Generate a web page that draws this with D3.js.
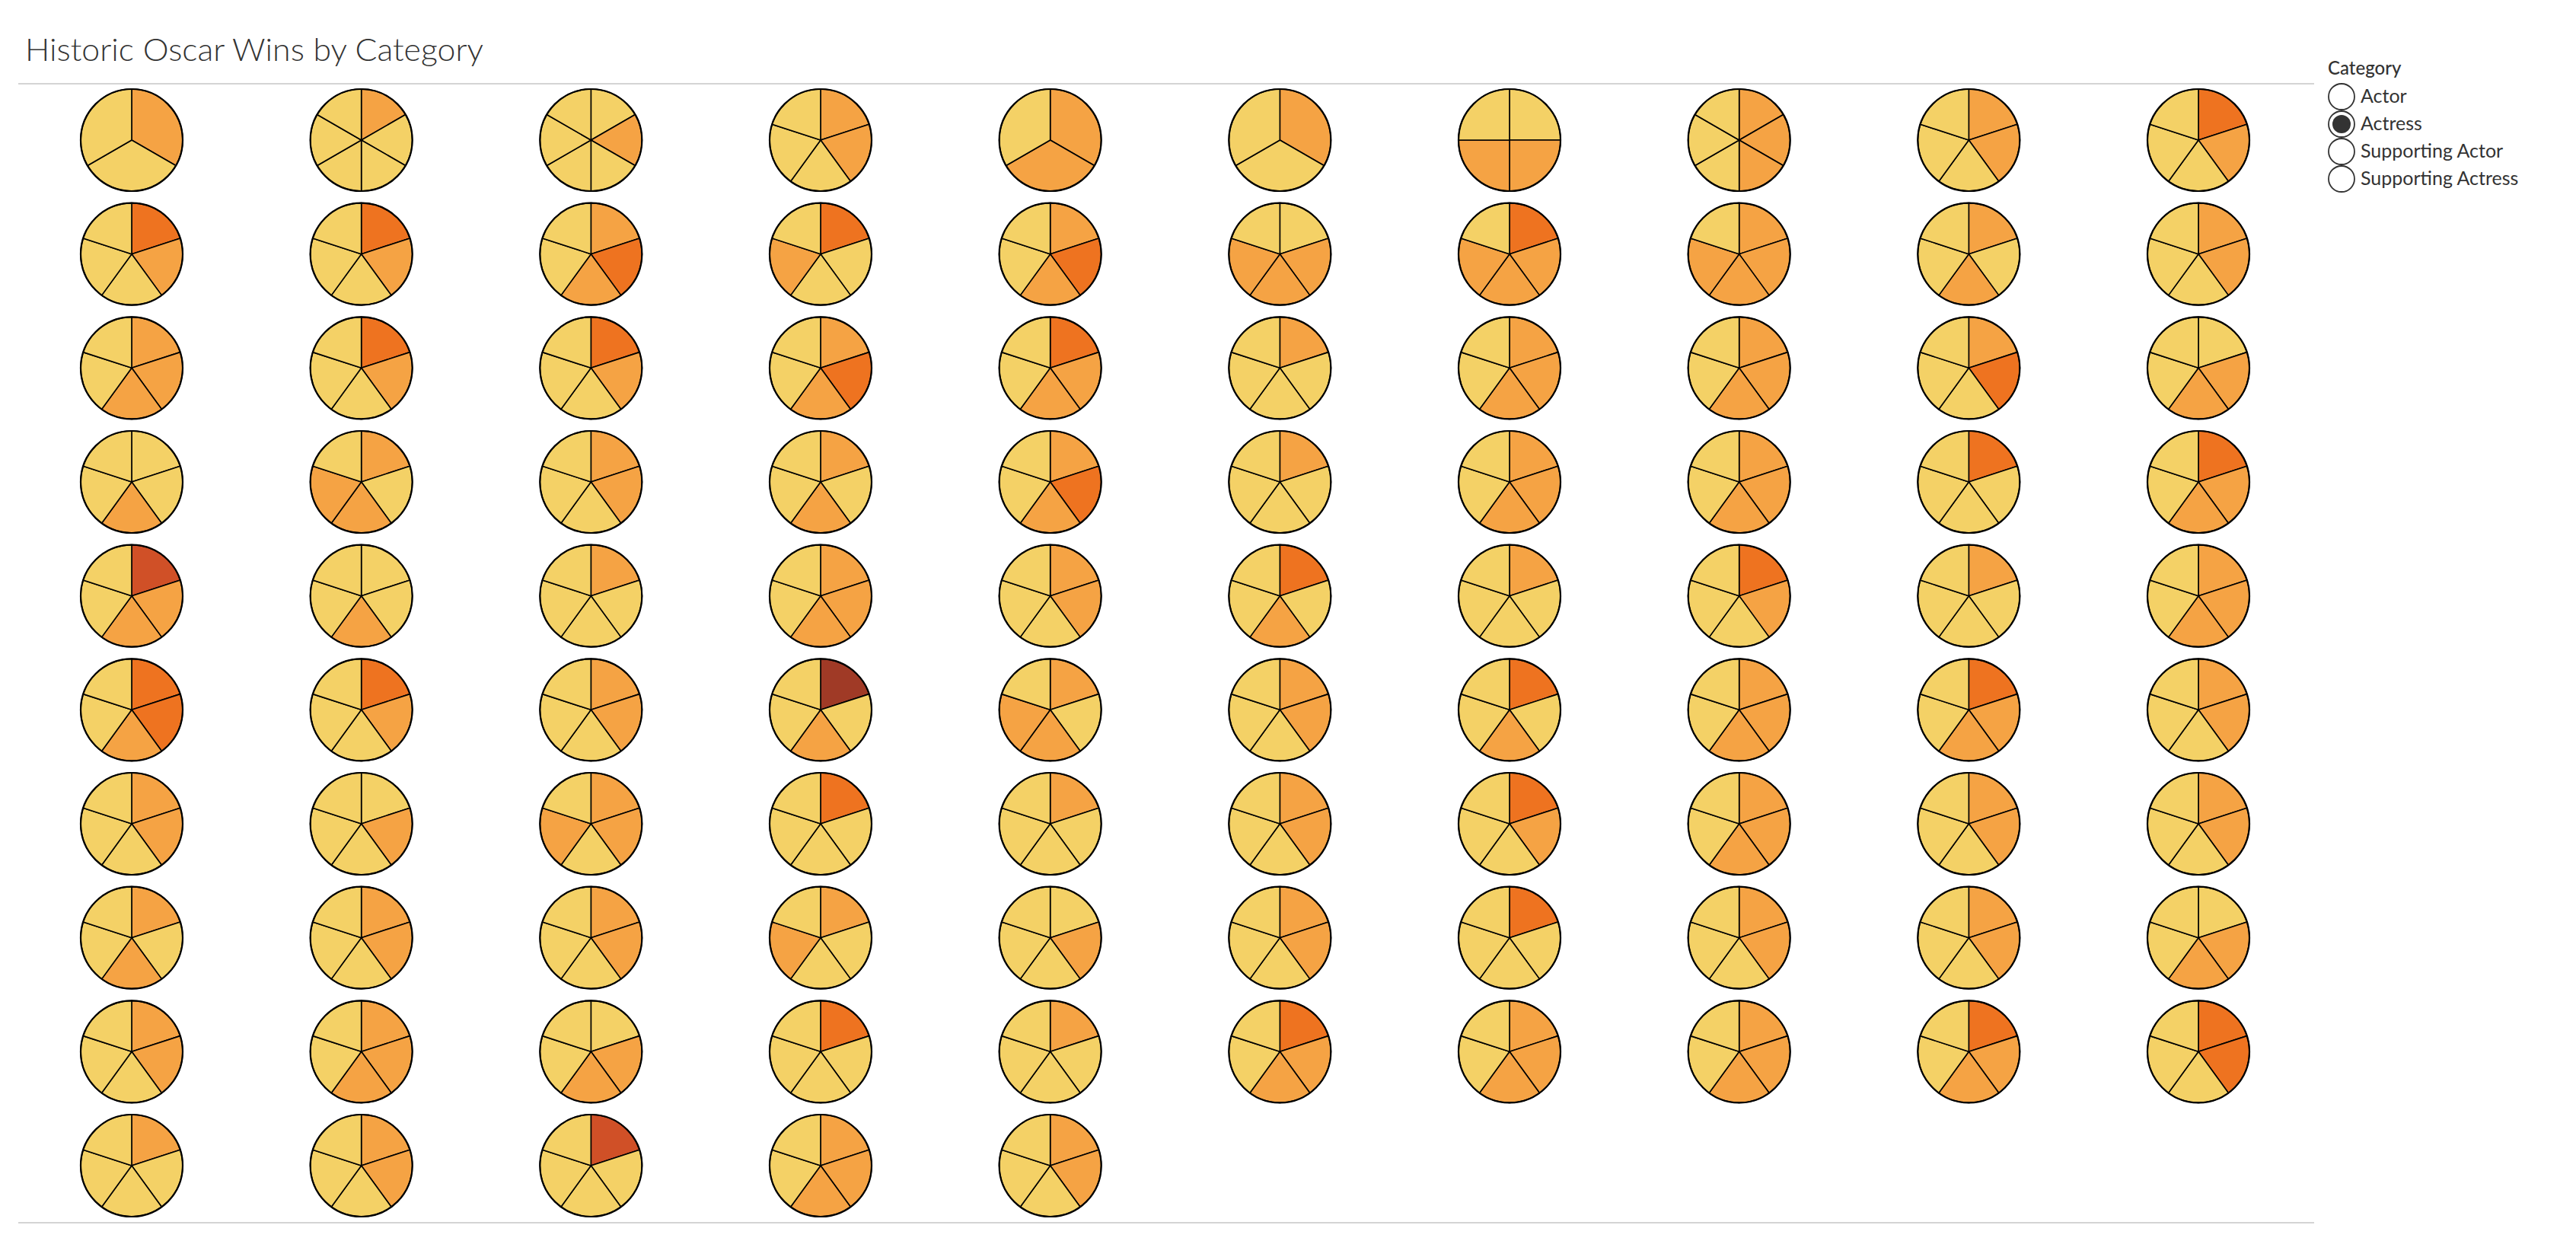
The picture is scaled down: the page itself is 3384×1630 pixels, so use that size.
<!DOCTYPE html>
<html><head><meta charset="utf-8">
<script src="https://cdn.jsdelivr.net/npm/d3@7"></script>
<style>body{margin:0;background:#fff;}svg{display:block;}</style>
</head><body>
<script>
// Level codes per slice (clockwise from 12 o'clock): 1=lightest ... 5=darkest
const row1  = ["211","211111","121111","22111","221","211","1221","222111","22111","32111"];
const row2  = ["32111","32111","23211","31121","23211","12221","32221","22221","21211","22111"];
const row3  = ["22211","32111","32111","23211","32211","21111","22211","22211","23111","12211"];
const row4  = ["11211","21221","22111","21211","23211","21111","22211","22211","31111","32211"];
const row5  = ["42211","11211","21111","22211","22111","31211","21111","32111","21111","22211"];
const row6  = ["33211","32111","22111","51211","21221","22111","31211","22211","32211","22111"];
const row7  = ["22111","12111","22121","31111","21111","22111","32111","22211","22111","22111"];
const row8  = ["21211","22111","22111","21121","12111","22111","31111","22111","22111","12211"];
const row9  = ["22111","22211","12211","31111","21111","32211","22211","22211","32211","33111"];
const row10 = ["21111","22111","41111","22211","22111"];
const rows = [row1,row2,row3,row4,row5,row6,row7,row8,row9,row10];

const levels = [1,2,3,4,5];
const levelColors = ["#F4D166","#F5A344","#EE7320","#D05027","#A03A26"];

const title = "Historic Oscar Wins by Category";
const legendTitle = "Category";
const legendItems = ["Actor","Actress","Supporting Actor","Supporting Actress"];
const selectedItem = "Actress";

const W = 3384, H = 1630;
const svg = d3.select("body").append("svg").attr("width", W).attr("height", H);

svg.append("text").attr("x", 33).attr("y", 80)
  .attr("font-family", "Lato, 'Open Sans', sans-serif").attr("font-weight", 300)
  .attr("font-size", 41).attr("fill", "#333")
  .attr("textLength", 602).attr("lengthAdjust", "spacingAndGlyphs").text(title);

svg.append("line").attr("x1", 24).attr("x2", 3040).attr("y1", 110).attr("y2", 110)
  .attr("stroke", "#d4d4d4").attr("stroke-width", 2);
svg.append("line").attr("x1", 24).attr("x2", 3040).attr("y1", 1606).attr("y2", 1606)
  .attr("stroke", "#d4d4d4").attr("stroke-width", 2);

const x = d3.scalePoint().domain(d3.range(10)).range([173, 2888]);
const y = d3.scalePoint().domain(d3.range(rows.length)).range([184, 1531]);
const color = d3.scaleOrdinal().domain(levels).range(levelColors);
const R = 67;
const arc = d3.arc().innerRadius(0).outerRadius(R);
const pie = d3.pie().value(() => 1).sort(null);

rows.forEach((row, ri) => {
  row.forEach((code, ci) => {
    const g = svg.append("g").attr("transform", `translate(${x(ci)},${y(ri)})`);
    const vals = code.split("").map(Number);
    g.selectAll("path").data(pie(vals)).join("path")
      .attr("d", arc).attr("fill", d => color(d.data))
      .attr("stroke", "#000").attr("stroke-width", 1.6).attr("stroke-linejoin", "round");
    g.append("circle").attr("r", R).attr("fill", "none").attr("stroke", "#000").attr("stroke-width", 2.2);
  });
});

// Legend
const lg = svg.append("g");
lg.append("text").attr("x", 3058).attr("y", 98)
  .attr("font-family", "Lato, 'Open Sans', sans-serif").attr("font-weight", 500)
  .attr("font-size", 24).attr("fill", "#333").text(legendTitle);
const ly = d3.scalePoint().domain(legendItems).range([127, 235]);
legendItems.forEach(item => {
  lg.append("circle").attr("cx", 3076).attr("cy", ly(item)).attr("r", 17)
    .attr("fill", "#fff").attr("stroke", "#333").attr("stroke-width", 1.8);
  if (item === selectedItem) {
    lg.append("circle").attr("cx", 3076).attr("cy", ly(item)).attr("r", 12).attr("fill", "#333");
  }
  lg.append("text").attr("x", 3101).attr("y", ly(item) + 8)
    .attr("font-family", "Lato, 'Open Sans', sans-serif").attr("font-weight", 400)
    .attr("font-size", 25).attr("fill", "#333").text(item);
});
</script>
</body></html>
